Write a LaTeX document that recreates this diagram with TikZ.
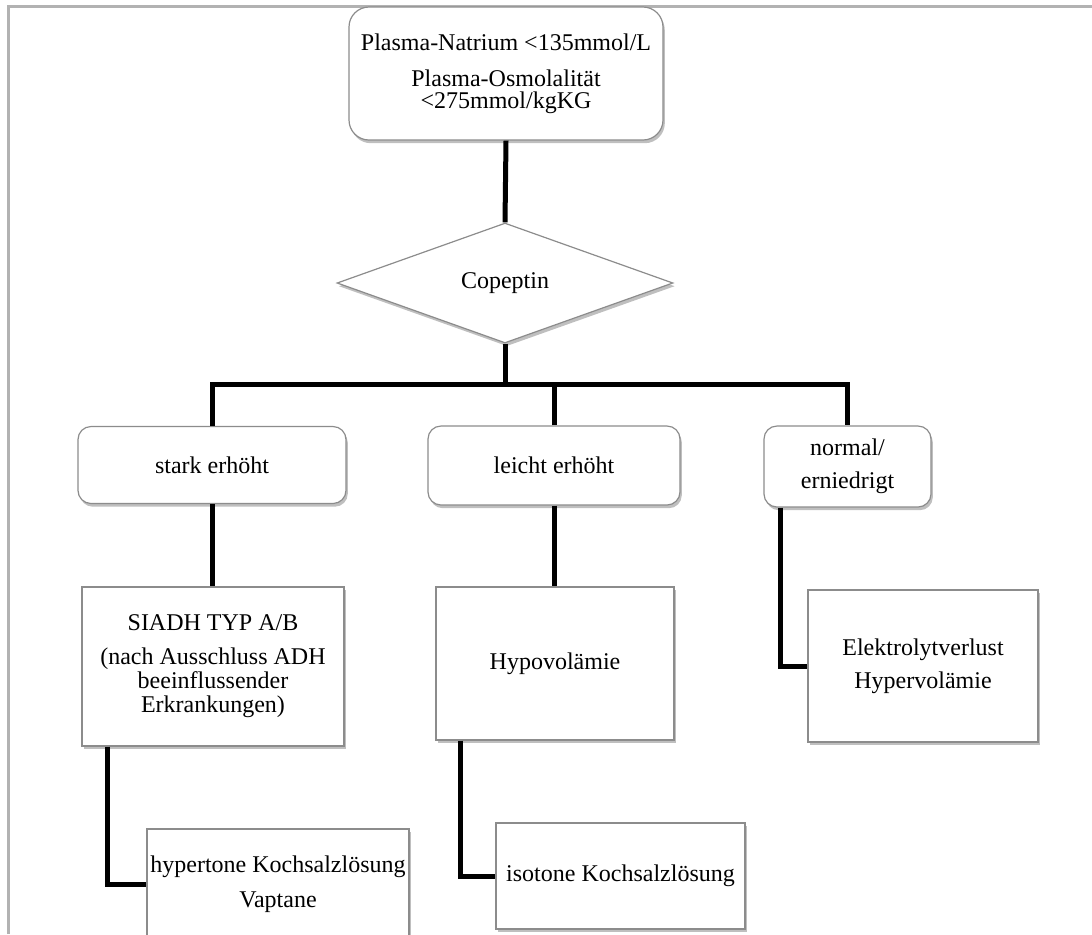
\documentclass[tikz,border=0pt]{standalone}
\usepackage{fontspec}
\setmainfont{Liberation Serif}
\usetikzlibrary{shapes.geometric,shadows}
\tikzset{
  base/.style={draw=black!45, line width=0.6pt, fill=white, inner sep=0pt, align=center,
    font=\fontsize{12}{12}\selectfont,
    drop shadow={shadow xshift=0.9pt, shadow yshift=-1.6pt, opacity=0.25, fill=black}},
  rbox/.style={base, rectangle, rounded corners=6.5pt},
  sbox/.style={base, rectangle},
  dbox/.style={base, diamond, aspect=2.8},
  conn/.style={line width=2.5pt, black, line join=miter},
  frameline/.style={line width=1.5pt, black!30}
}
\begin{document}
\begin{tikzpicture}[x=0.5pt, y=-0.5pt]
\useasboundingbox (0,0) rectangle (1092,934);
\clip (0,0) rectangle (1092,934);
\draw[frameline] (8.5,934) -- (8.5,6.5) -- (1092,6.5);

\node[rbox, rounded corners=10pt, minimum width=157pt, minimum height=66.5pt] (top) at (506,73.5)
  {Plasma-Natrium <135mmol/L\\[6pt]Plasma-Osmolalität\\[-1pt]<275mmol/kgKG};
\node[dbox, minimum width=168pt, minimum height=60pt] (cop) at (505,283) {Copeptin};

\node[rbox, minimum width=134pt, minimum height=38.5pt] (stark) at (212,465) {stark erhöht};
\node[rbox, minimum width=126pt, minimum height=39.5pt] (leicht) at (554,465.5) {leicht erhöht};
\node[rbox, minimum width=83.5pt, minimum height=40.5pt] (normal) at (847.5,466.5) {normal/\\[4.5pt]erniedrigt};

\node[sbox, minimum width=131pt, minimum height=79.5pt] (siadh) at (213,666.5)
  {SIADH TYP A/B\\[5pt](nach Ausschluss ADH\\beeinflussender\\Erkrankungen)};
\node[sbox, minimum width=119pt, minimum height=76.5pt] (hypo) at (555,663.5) {Hypovolämie};
\node[sbox, minimum width=115pt, minimum height=76pt] (elek) at (923,666) {Elektrolytverlust\\[4.5pt]Hypervolämie};

\node[sbox, minimum width=131pt, minimum height=55.5pt] (hyper) at (278,884.5)
  {hypertone Kochsalzlösung\\[5.5pt]Vaptane};
\node[sbox, minimum width=124.5pt, minimum height=53pt] (iso) at (620.5,876) {isotone Kochsalzlösung};

\coordinate (bus) at (505,384);
\draw[conn] (top.south) -- (cop.north);
\draw[conn] (cop.south) -- (bus);
\draw[conn] (stark.north) |- (bus) -| (normal.north);
\draw[conn] (leicht.north) -- (leicht.north |- bus);
\draw[conn] (stark.south) -- (stark.south |- siadh.north);
\draw[conn] (leicht.south) -- (leicht.south |- hypo.north);
\draw[conn] ([xshift=8.5pt]normal.south west) |- (elek.west);
\draw[conn] ([xshift=13pt]siadh.south west) |- (hyper.west);
\draw[conn] ([xshift=12.5pt]hypo.south west) |- (iso.west);
\end{tikzpicture}
\end{document}
